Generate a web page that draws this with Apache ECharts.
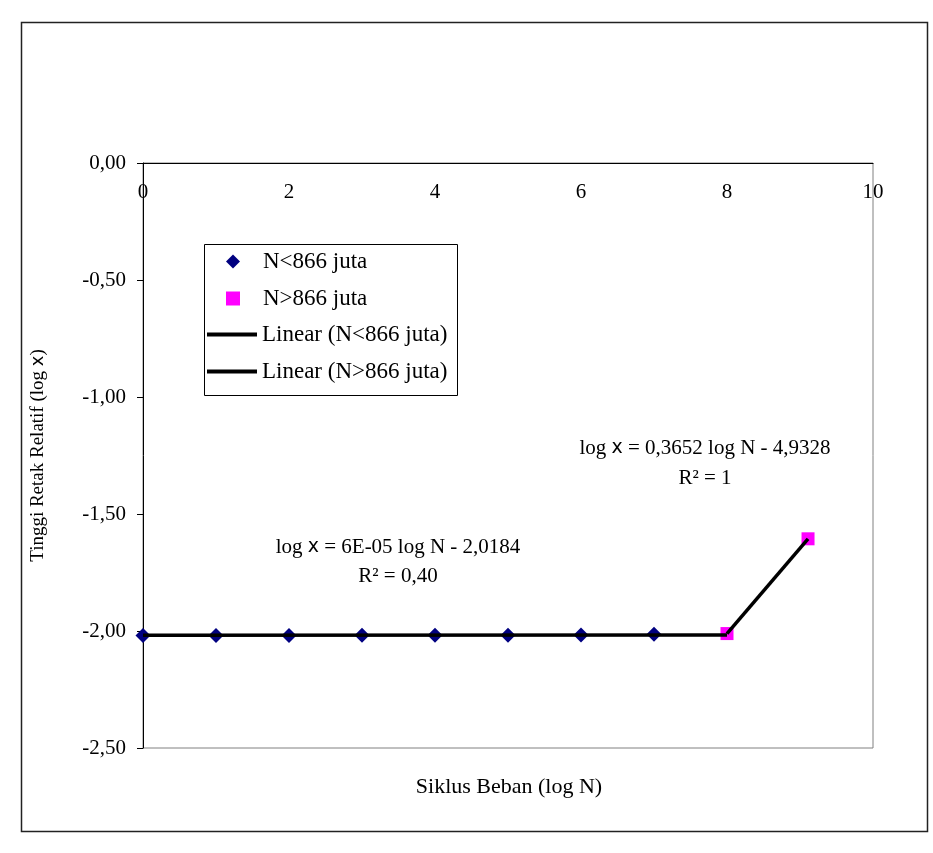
<!DOCTYPE html>
<html>
<head>
    <meta charset="UTF-8">
    <title>Siklus Beban</title>
    <script src="https://cdnjs.cloudflare.com/ajax/libs/echarts/6.0.0/echarts.min.js"></script>
    <style>
        html, body { margin: 0; padding: 0; background: #fff; }
        #chart { width: 933px; height: 853px; }
    </style>
</head>
<body>
<div id="chart"></div>
<script>
    // values
    const logN1 = [0, 1, 2, 3, 4, 5, 6, 7];
    const logX1 = [-2.019, -2.019, -2.019, -2.018, -2.018, -2.018, -2.017, -2.014];
    const logN2 = [8.0, 9.11];
    const logX2 = [-2.011, -1.606];
    const trend1 = [[0, -2.0184], [8.0, -2.0175]];
    const trend2 = [[8.0, -2.011], [9.11, -1.606]];

    const serif = '"Liberation Serif", "DejaVu Serif", serif';
    const sans = '"DejaVu Sans", sans-serif';
    const chart = echarts.init(document.getElementById('chart'));

    function pairs(xs, ys) {
        return xs.map(function (x, i) { return [x, ys[i]]; });
    }

    const lineIcon = 'path://M0,0H50V4H0Z';
    const legendText = { fontFamily: serif, fontSize: 23, color: '#000', lineHeight: 23 };

    chart.setOption({
        animation: false,
        backgroundColor: '#fff',
        grid: {
            left: 143, top: 163, width: 730, height: 585,
            show: true, borderColor: '#808080', borderWidth: 1
        },
        legend: [{
            orient: 'vertical', left: 226, top: 250, padding: 0,
            itemWidth: 14, itemHeight: 14, itemGap: 14,
            textStyle: Object.assign({}, legendText, { padding: [0, 0, 0, 18] }),
            data: [
                { name: 'N<866 juta', icon: 'diamond' },
                { name: 'N>866 juta', icon: 'rect' }
            ]
        }, {
            orient: 'vertical', left: 207, top: 323, padding: 0,
            itemWidth: 50, itemHeight: 4, itemGap: 14,
            textStyle: legendText,
            data: [
                { name: 'Linear (N<866 juta)', icon: lineIcon },
                { name: 'Linear (N>866 juta)', icon: lineIcon }
            ]
        }],
        xAxis: {
            type: 'value', position: 'top', min: 0, max: 10, interval: 2,
            axisLine: { lineStyle: { color: '#000', width: 1 } },
            axisTick: { show: false },
            splitLine: { show: false },
            axisLabel: { inside: true, fontFamily: serif, fontSize: 21, color: '#000', margin: 19 }
        },
        yAxis: {
            type: 'value', min: -2.5, max: 0, interval: 0.5,
            axisLine: { show: true, lineStyle: { color: '#000', width: 1 } },
            axisTick: { show: true, length: 6, lineStyle: { color: '#000' } },
            splitLine: { show: false },
            axisLabel: {
                fontFamily: serif, fontSize: 21, color: '#000', margin: 17,
                formatter: function (v) { return v.toFixed(2).replace('.', ','); }
            },
            name: '{a|Tinggi Retak Relatif (log }{b|x}{a|)}',
            nameLocation: 'middle', nameGap: 95,
            nameTextStyle: {
                rich: {
                    a: { fontFamily: serif, fontSize: 19, color: '#000' },
                    b: { fontFamily: sans, fontSize: 18, color: '#000' }
                }
            }
        },
        series: [{
            name: 'N<866 juta', type: 'scatter', symbol: 'diamond', symbolSize: 15,
            itemStyle: { color: '#000080', opacity: 1 }, z: 2,
            data: pairs(logN1, logX1)
        }, {
            name: 'N>866 juta', type: 'scatter', symbol: 'rect', symbolSize: 13,
            itemStyle: { color: '#FF00FF', opacity: 1 }, z: 2,
            data: pairs(logN2, logX2)
        }, {
            name: 'Linear (N<866 juta)', type: 'line', showSymbol: false, symbol: 'none',
            lineStyle: { color: '#000', width: 3.5 }, itemStyle: { color: '#000' }, z: 3,
            data: trend1
        }, {
            name: 'Linear (N>866 juta)', type: 'line', showSymbol: false, symbol: 'none',
            lineStyle: { color: '#000', width: 3.5 }, itemStyle: { color: '#000' }, z: 3,
            data: trend2
        }],
        graphic: [{
            type: 'rect', left: 19, top: 20, z: -1,
            shape: { width: 906, height: 809 },
            style: { fill: 'none', stroke: '#222', lineWidth: 1.5 }
        }, {
            type: 'rect', left: 202, top: 242, z: 1,
            shape: { width: 253, height: 151 },
            style: { fill: 'none', stroke: '#000', lineWidth: 1 }
        }, {
            type: 'text', x: 509, y: 787,
            style: { text: 'Siklus Beban (log N)', font: '22px ' + serif, fill: '#000', align: 'center', verticalAlign: 'middle' }
        }, {
            type: 'text', x: 705, y: 448,
            style: {
                text: '{a|log }{b|x}{a| = 0,3652 log N - 4,9328}', align: 'center', verticalAlign: 'middle',
                rich: {
                    a: { fontFamily: serif, fontSize: 21, fill: '#000' },
                    b: { fontFamily: sans, fontSize: 19, fill: '#000' }
                }
            }
        }, {
            type: 'text', x: 705, y: 478,
            style: { text: 'R² = 1', font: '21px ' + serif, fill: '#000', align: 'center', verticalAlign: 'middle' }
        }, {
            type: 'text', x: 398, y: 547,
            style: {
                text: '{a|log }{b|x}{a| = 6E-05 log N - 2,0184}', align: 'center', verticalAlign: 'middle',
                rich: {
                    a: { fontFamily: serif, fontSize: 21, fill: '#000' },
                    b: { fontFamily: sans, fontSize: 19, fill: '#000' }
                }
            }
        }, {
            type: 'text', x: 398, y: 576,
            style: { text: 'R² = 0,40', font: '21px ' + serif, fill: '#000', align: 'center', verticalAlign: 'middle' }
        }]
    });
</script>
</body>
</html>
